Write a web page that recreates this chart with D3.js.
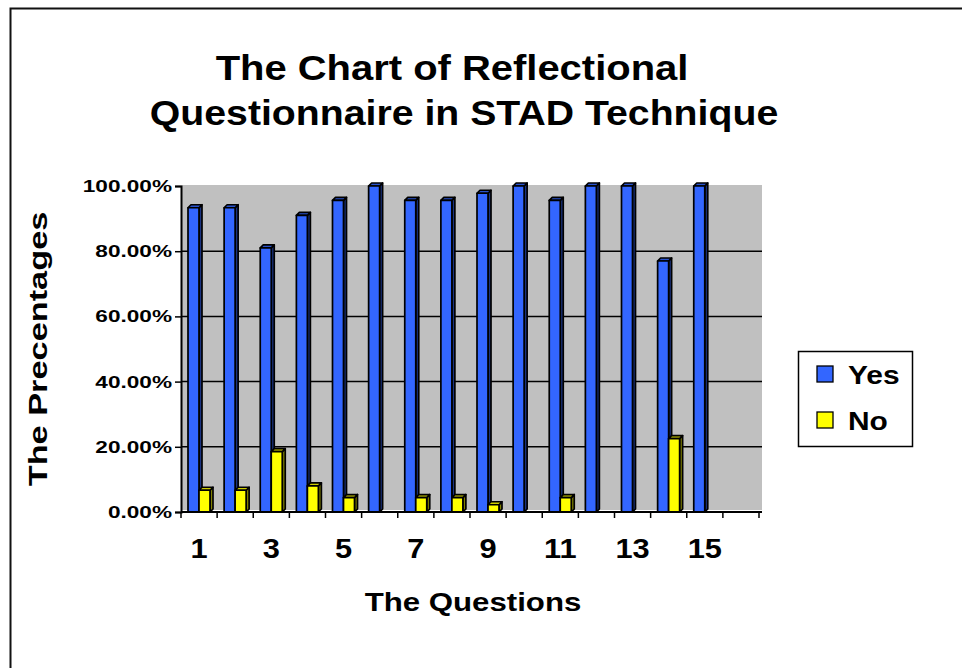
<!DOCTYPE HTML>
<html>
  <head>
    <title>Reflectional Questionnaire</title>
    <style>
      body { margin: 0; background: #fff; }
      text { font-family: 'Liberation Sans', Arial, sans-serif; font-weight: bold; fill: #000; }
    </style>
  </head>
  <body>
    <script src="https://cdn.jsdelivr.net/npm/d3@7"></script>
    <script>
      // 16 slots on the axis, only 15 questions have answers
      var questions = d3.range(1, 17).map(String);
      var tickLabels = ['1', '3', '5', '7', '9', '11', '13', '15'];
      var seriesNames = ['Yes', 'No'];
      var yes = [93.33, 93.33, 81.0, 91.0, 95.56, 100, 95.56, 95.56, 97.78, 100, 95.56, 100, 100, 77.0, 100];
      var no = [6.67, 6.67, 18.5, 8.0, 4.44, 0, 4.44, 4.44, 2.22, 0, 4.44, 0, 0, 22.5, 0];

      var width = 962,
        height = 668;

      var plot = { left: 181, right: 759, top: 186, bottom: 512 };
      var depth = 3;

      var colors = {
        Yes: { front: '#3366ff', side: '#1a3380', top: '#2952cc' },
        No: { front: '#ffff00', side: '#808000', top: '#cccc00' }
      };

      var svg = d3.select('body').append('svg')
          .attr('width', width)
          .attr('height', height);

      svg.append('rect')
          .attr('width', width)
          .attr('height', height)
          .attr('fill', '#fff');

      // outer frame, runs off the right and bottom edges
      svg.append('rect')
          .attr('x', 10.5)
          .attr('y', 8.5)
          .attr('width', 980)
          .attr('height', 700)
          .attr('fill', 'none')
          .attr('stroke', '#111')
          .attr('stroke-width', 2);

      var x = d3.scaleBand()
          .domain(questions)
          .range([plot.left, plot.right]);

      var y = d3.scaleLinear()
          .domain([0, 1])
          .range([plot.bottom, plot.top]);

      // back wall
      svg.append('rect')
          .attr('x', plot.left)
          .attr('y', plot.top - 1)
          .attr('width', plot.right - plot.left + 3)
          .attr('height', plot.bottom - plot.top - 1)
          .attr('fill', '#c0c0c0');

      // gridlines
      svg.append('g')
          .selectAll('line')
          .data([0.2, 0.4, 0.6, 0.8])
        .enter().append('line')
          .attr('x1', plot.left)
          .attr('x2', plot.right + 3)
          .attr('y1', function(d) { return y(d); })
          .attr('y2', function(d) { return y(d); })
          .attr('stroke', '#000')
          .attr('stroke-width', 1.5);

      // bars
      var rows = [];
      yes.forEach(function(v, i) {
        rows.push({ q: questions[i], s: 'Yes', v: v / 100 });
        rows.push({ q: questions[i], s: 'No', v: no[i] / 100 });
      });

      var inner = d3.scaleBand()
          .domain(seriesNames)
          .range([7, 29]);

      var bars = svg.append('g')
          .selectAll('g')
          .data(rows.filter(function(d) { return d.v > 0; }))
        .enter().append('g')
          .attr('stroke', '#000')
          .attr('stroke-width', 1.7)
          .attr('stroke-linejoin', 'round');

      function px(d) { return x(d.q) + inner(d.s); }

      // right side face
      bars.append('path')
          .attr('fill', function(d) { return colors[d.s].side; })
          .attr('d', function(d) {
            var x0 = px(d) + inner.bandwidth(), y0 = y(d.v), y1 = y(0);
            return 'M' + x0 + ',' + y0 + 'L' + (x0 + depth) + ',' + (y0 - depth) +
              'L' + (x0 + depth) + ',' + (y1 - depth) + 'L' + x0 + ',' + y1 + 'Z';
          });

      // top face
      bars.append('path')
          .attr('fill', function(d) { return colors[d.s].top; })
          .attr('d', function(d) {
            var x0 = px(d), x1 = x0 + inner.bandwidth(), y0 = y(d.v);
            return 'M' + x0 + ',' + y0 + 'L' + (x0 + depth) + ',' + (y0 - depth) +
              'L' + (x1 + depth) + ',' + (y0 - depth) + 'L' + x1 + ',' + y0 + 'Z';
          });

      // front face
      bars.append('rect')
          .attr('fill', function(d) { return colors[d.s].front; })
          .attr('x', px)
          .attr('y', function(d) { return y(d.v); })
          .attr('width', inner.bandwidth())
          .attr('height', function(d) { return y(0) - y(d.v); });

      // y axis
      var yAxis = svg.append('g')
          .attr('transform', 'translate(' + plot.left + ',0)')
          .call(d3.axisLeft(y).tickValues([0, 0.2, 0.4, 0.6, 0.8, 1]).tickFormat(d3.format('.2%')).tickSize(6).tickPadding(3));
      yAxis.select('.domain').attr('stroke', '#000').attr('stroke-width', 2);
      yAxis.selectAll('.tick line').attr('stroke', '#000').attr('stroke-width', 1.5);
      yAxis.selectAll('.tick text')
          .attr('fill', '#000')
          .style('font-size', '17px')
          .attr('transform', function() {
            var tx = +d3.select(this).attr('x');
            return 'translate(' + tx + ',0) scale(1.33,1) translate(' + (-tx) + ',0)';
          });

      // x axis: labels only on odd questions
      var xAxis = svg.append('g')
          .attr('transform', 'translate(0,' + plot.bottom + ')')
          .call(d3.axisBottom(x).tickSize(0).tickPadding(46).tickFormat(function(d) {
            return tickLabels.indexOf(d) >= 0 ? d : '';
          }));
      xAxis.select('.domain').attr('stroke', '#000').attr('stroke-width', 2)
          .attr('d', 'M' + plot.left + ',0H' + (plot.right + 3));
      xAxis.selectAll('.tick text')
          .attr('fill', '#000')
          .attr('dy', '0')
          .style('font-size', '28px')
          .attr('transform', 'scale(1.1,1)');

      // band boundary ticks
      svg.append('g')
          .selectAll('line')
          .data(questions.concat(['end']))
        .enter().append('line')
          .attr('x1', function(d) { return d === 'end' ? plot.right : x(d); })
          .attr('x2', function(d) { return d === 'end' ? plot.right : x(d); })
          .attr('y1', plot.bottom)
          .attr('y2', plot.bottom + 6)
          .attr('stroke', '#000')
          .attr('stroke-width', 1.5);

      // stretched text helper: anchored at (tx, ty)
      function label(str, tx, ty, size, k, rot) {
        return svg.append('text')
            .attr('text-anchor', 'middle')
            .attr('transform', 'translate(' + tx + ',' + ty + ')' + (rot ? ' rotate(' + rot + ')' : '') + ' scale(' + k + ',1)')
            .style('font-size', size + 'px')
            .text(str);
      }

      label('The Chart of Reflectional', 452, 80, 36, 1.11);
      label('Questionnaire in STAD Technique', 464, 125, 36, 1.09);
      label('The Questions', 473, 611, 26, 1.2);
      label('The Precentages', 47, 349, 26, 1.32, -90);

      // legend
      var legend = svg.append('g');
      legend.append('rect')
          .attr('x', 798.5)
          .attr('y', 351.5)
          .attr('width', 114)
          .attr('height', 95)
          .attr('fill', '#fff')
          .attr('stroke', '#000')
          .attr('stroke-width', 1.5);

      var item = legend.selectAll('g.item')
          .data(seriesNames)
        .enter().append('g')
          .attr('class', 'item')
          .attr('transform', function(d, i) { return 'translate(817,' + (366 + i * 46) + ')'; });
      item.append('rect')
          .attr('width', 16)
          .attr('height', 16)
          .attr('fill', function(d) { return colors[d].front; })
          .attr('stroke', '#000')
          .attr('stroke-width', 1.3);
      item.append('text')
          .attr('transform', 'translate(31,18) scale(1.15,1)')
          .style('font-size', '26px')
          .text(function(d) { return d; });
    </script>
  </body>
</html>
